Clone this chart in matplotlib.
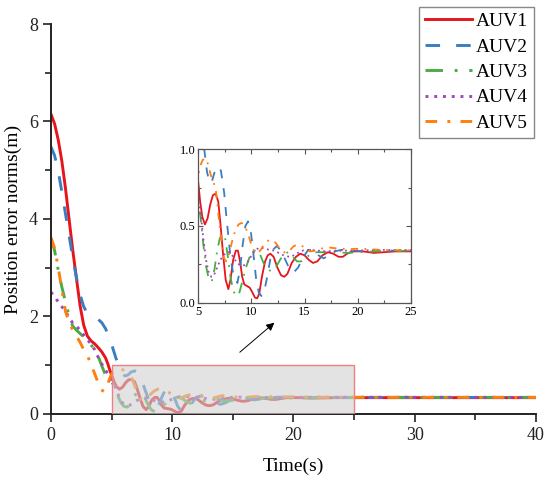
import matplotlib
matplotlib.use("Agg")
import matplotlib.pyplot as plt
from matplotlib.patches import Rectangle
from matplotlib.ticker import MultipleLocator, FormatStrFormatter

plt.rcParams["font.family"] = ["Liberation Serif", "DejaVu Serif"]
plt.rcParams["mathtext.fontset"] = "stix"

# values (time in s, error norm in m)
t1 = [0, 0.3, 0.6, 0.9, 1.2, 1.5, 1.8, 2.1, 2.4, 2.7, 3.0, 3.3, 3.6, 3.9, 4.2, 4.5, 4.7, 4.85,
      5.0, 5.2, 5.4, 5.65, 5.9, 6.15, 6.4, 6.65, 6.9, 7.1, 7.35, 7.6, 7.85, 8.05, 8.3, 8.55,
      8.75, 8.95, 9.15, 9.35, 9.6, 9.85, 10.1, 10.35, 10.55, 10.75, 11.0, 11.3, 11.55, 11.8,
      12.1, 12.45, 12.8, 13.1, 13.4, 13.8, 14.2, 14.6, 15.0, 15.4, 15.8, 16.2, 16.7, 17.2,
      17.7, 18.2, 18.6, 19.0, 19.5, 20.5, 21.5, 22.5, 23.5, 25, 30, 40]
auv1 = [6.15, 5.95, 5.62, 5.18, 4.62, 3.98, 3.35, 2.78, 2.22, 1.82, 1.60, 1.50, 1.44, 1.36, 1.27,
        1.15, 1.02, 0.90, 0.80, 0.66, 0.56, 0.51, 0.55, 0.64, 0.70, 0.71, 0.66, 0.52, 0.32, 0.15,
        0.09, 0.15, 0.28, 0.34, 0.34, 0.27, 0.17, 0.12, 0.11, 0.10, 0.07, 0.035, 0.03, 0.06, 0.17,
        0.27, 0.31, 0.32, 0.30, 0.23, 0.18, 0.17, 0.19, 0.26, 0.30, 0.32, 0.31, 0.28, 0.26, 0.27,
        0.31, 0.33, 0.32, 0.30, 0.30, 0.32, 0.335, 0.335, 0.325, 0.33, 0.335, 0.335, 0.335, 0.335]

t2 = [0, 0.3, 0.6, 0.9, 1.2, 1.5, 1.8, 2.1, 2.4, 2.7, 3.0, 3.3, 3.6, 3.9, 4.2, 4.5, 4.8, 5.1,
      5.35, 5.6, 5.85, 6.1, 6.35, 6.6, 6.9, 7.15, 7.45, 7.75, 8.05, 8.35, 8.7, 8.95, 9.2, 9.45,
      9.7, 9.95, 10.2, 10.45, 10.7, 10.95, 11.2, 11.5, 11.8, 12.1, 12.4, 12.8, 13.2, 13.6, 14.0,
      14.4, 14.8, 15.3, 15.8, 16.3, 16.8, 17.3, 17.8, 18.5, 19.5, 21, 23, 25, 40]
auv2 = [5.48, 5.30, 4.98, 4.55, 4.10, 3.65, 3.20, 2.80, 2.45, 2.20, 2.07, 2.01, 1.98, 1.94, 1.87,
        1.75, 1.58, 1.35, 1.15, 0.99, 0.85, 0.78, 0.80, 0.86, 0.885, 0.86, 0.72, 0.50, 0.30, 0.17,
        0.13, 0.22, 0.38, 0.50, 0.53, 0.47, 0.32, 0.16, 0.07, 0.045, 0.07, 0.17, 0.29, 0.35, 0.37,
        0.34, 0.28, 0.22, 0.20, 0.23, 0.29, 0.34, 0.35, 0.31, 0.29, 0.31, 0.335, 0.345, 0.34,
        0.335, 0.34, 0.34, 0.34]

t3 = [0, 0.3, 0.6, 0.9, 1.2, 1.5, 1.8, 2.1, 2.4, 2.7, 3.0, 3.3, 3.6, 3.9, 4.2, 4.5, 4.8, 5.0,
      5.25, 5.5, 5.75, 6.0, 6.3, 6.55, 6.8, 7.05, 7.3, 7.55, 7.8, 8.05, 8.3, 8.6, 8.9, 9.2, 9.5,
      9.8, 10.1, 10.45, 10.8, 11.15, 11.5, 11.9, 12.3, 12.7, 13.1, 13.5, 13.9, 14.3, 14.7, 15.1,
      15.6, 16.2, 17, 18, 19, 20, 22, 25, 40]
auv3 = [3.60, 3.35, 2.95, 2.60, 2.30, 2.00, 1.80, 1.72, 1.65, 1.58, 1.50, 1.42, 1.32, 1.18, 0.98,
        0.80, 0.71, 0.67, 0.55, 0.38, 0.24, 0.16, 0.14, 0.22, 0.34, 0.42, 0.45, 0.42, 0.30, 0.17,
        0.08, 0.045, 0.07, 0.15, 0.23, 0.29, 0.33, 0.345, 0.32, 0.26, 0.22, 0.205, 0.23, 0.28,
        0.32, 0.33, 0.30, 0.27, 0.27, 0.29, 0.32, 0.33, 0.33, 0.33, 0.325, 0.33, 0.335, 0.34, 0.34]

t4 = [0, 0.3, 0.6, 0.9, 1.2, 1.5, 1.8, 2.1, 2.4, 2.7, 3.0, 3.3, 3.6, 3.9, 4.2, 4.5, 4.8, 5.0,
      5.25, 5.5, 5.75, 6.0, 6.25, 6.5, 6.8, 7.1, 7.4, 7.7, 8.0, 8.3, 8.65, 9.0, 9.35, 9.7, 10.05,
      10.4, 10.8, 11.2, 11.7, 12.2, 12.7, 13.2, 13.6, 14.0, 14.5, 15.0, 15.6, 16.3, 17, 18, 20,
      22, 25, 40]
auv4 = [2.50, 2.40, 2.30, 2.20, 2.10, 1.98, 1.86, 1.80, 1.72, 1.62, 1.52, 1.44, 1.32, 1.16, 1.02,
        0.90, 0.78, 0.68, 0.58, 0.42, 0.28, 0.20, 0.17, 0.18, 0.23, 0.28, 0.31, 0.33, 0.33, 0.30,
        0.26, 0.245, 0.245, 0.27, 0.31, 0.345, 0.36, 0.355, 0.345, 0.34, 0.32, 0.305, 0.30, 0.31,
        0.33, 0.345, 0.345, 0.34, 0.335, 0.34, 0.34, 0.345, 0.343, 0.34]

t5 = [0, 0.3, 0.6, 0.9, 1.2, 1.5, 1.8, 2.1, 2.4, 2.7, 3.0, 3.3, 3.6, 3.9, 4.15, 4.35, 4.55, 4.8,
      5.0, 5.2, 5.45, 5.7, 5.95, 6.2, 6.45, 6.7, 6.95, 7.2, 7.45, 7.65, 7.9, 8.2, 8.5, 8.8, 9.1,
      9.4, 9.7, 10.0, 10.3, 10.55, 10.85, 11.2, 11.6, 11.95, 12.3, 12.7, 13.2, 13.6, 14.0, 14.45,
      14.9, 15.5, 16.1, 16.7, 17.3, 18, 19, 20, 21, 22, 23, 25, 40]
auv5 = [3.62, 3.40, 3.00, 2.55, 2.10, 1.88, 1.72, 1.60, 1.47, 1.32, 1.20, 1.02, 0.83, 0.63, 0.50,
        0.46, 0.52, 0.70, 0.82, 0.89, 0.93, 0.94, 0.90, 0.83, 0.79, 0.72, 0.55, 0.40, 0.29, 0.27,
        0.31, 0.40, 0.47, 0.51, 0.52, 0.50, 0.45, 0.38, 0.33, 0.325, 0.34, 0.38, 0.405, 0.41, 0.39,
        0.35, 0.325, 0.34, 0.37, 0.38, 0.365, 0.335, 0.34, 0.355, 0.36, 0.355, 0.35, 0.352, 0.35,
        0.345, 0.343, 0.342, 0.34]

labels = ["AUV1", "AUV2", "AUV3", "AUV4", "AUV5"]
series = [(t1, auv1), (t2, auv2), (t3, auv3), (t4, auv4), (t5, auv5)]
colors = ["#e8141c", "#3a7ec1", "#4aad44", "#a044bf", "#ff7f0e"]
styles = ["-", (0, (5, 5.5)), (0, (6, 4, 1, 4)), (0, (1, 2)), (0, (4, 3.5, 1, 3.5))]

fig = plt.figure(figsize=(5.5, 4.83), dpi=100)
ax = fig.add_axes([0.0927, 0.1429, 0.8818, 0.8074])

for (t, y), lab, c, ls in zip(series, labels, colors, styles):
    ax.plot(t, y, color=c, linestyle=ls, linewidth=2.1, label=lab, zorder=2)

# zoom window marker
ax.add_patch(Rectangle((5, 0), 20, 1, facecolor=(0.82, 0.82, 0.82, 0.6),
                       edgecolor="#f08080", linewidth=1.0, zorder=3))
ax.annotate("", xy=(18.6, 1.91), xytext=(15.4, 1.23),
            arrowprops=dict(arrowstyle="-|>", color="k", lw=0.7, mutation_scale=12))

ax.set_xlim(0, 40)
ax.set_ylim(0, 8)
ax.xaxis.set_major_locator(MultipleLocator(10))
ax.xaxis.set_minor_locator(MultipleLocator(5))
ax.yaxis.set_major_locator(MultipleLocator(2))
ax.yaxis.set_minor_locator(MultipleLocator(1))
ax.tick_params(which="both", direction="out", labelsize=13, width=1.2, colors="#222222")
ax.tick_params(which="major", length=6)
ax.tick_params(which="minor", length=4)
for side in ("top", "right"):
    ax.spines[side].set_visible(False)
for side in ("left", "bottom"):
    ax.spines[side].set_linewidth(1.4)
    ax.spines[side].set_color("#222222")
ax.set_xlabel("Time(s)", fontsize=14, labelpad=10)
ax.set_ylabel("Position error norms(m)", fontsize=14, labelpad=5)

leg = ax.legend(loc="upper right", bbox_to_anchor=(0.995, 1.044), fontsize=14,
                frameon=True, fancybox=False, edgecolor="#888888", framealpha=1,
                handlelength=2.4, handletextpad=0.2, borderpad=0.3, labelspacing=0.4,
                borderaxespad=0)
leg.get_frame().set_linewidth(1.0)

# inset
axin = fig.add_axes([0.36, 0.3727, 0.3873, 0.3188])
for (t, y), c, ls in zip(series, colors, styles):
    axin.plot(t, y, color=c, linestyle=ls, linewidth=1.3)
axin.set_xlim(5, 25)
axin.set_ylim(0, 1)
axin.xaxis.set_major_locator(MultipleLocator(5))
axin.xaxis.set_minor_locator(MultipleLocator(2.5))
axin.yaxis.set_major_locator(MultipleLocator(0.5))
axin.yaxis.set_minor_locator(MultipleLocator(0.25))
axin.yaxis.set_major_formatter(FormatStrFormatter("%.1f"))
axin.tick_params(which="both", direction="in", top=True, right=True, labelsize=9,
                 color="#555555", width=0.8, pad=2)
axin.tick_params(which="major", length=3.5)
axin.tick_params(which="minor", length=2)
for sp in axin.spines.values():
    sp.set_color("#555555")
    sp.set_linewidth(0.9)

fig.savefig("out.png", dpi=100)
